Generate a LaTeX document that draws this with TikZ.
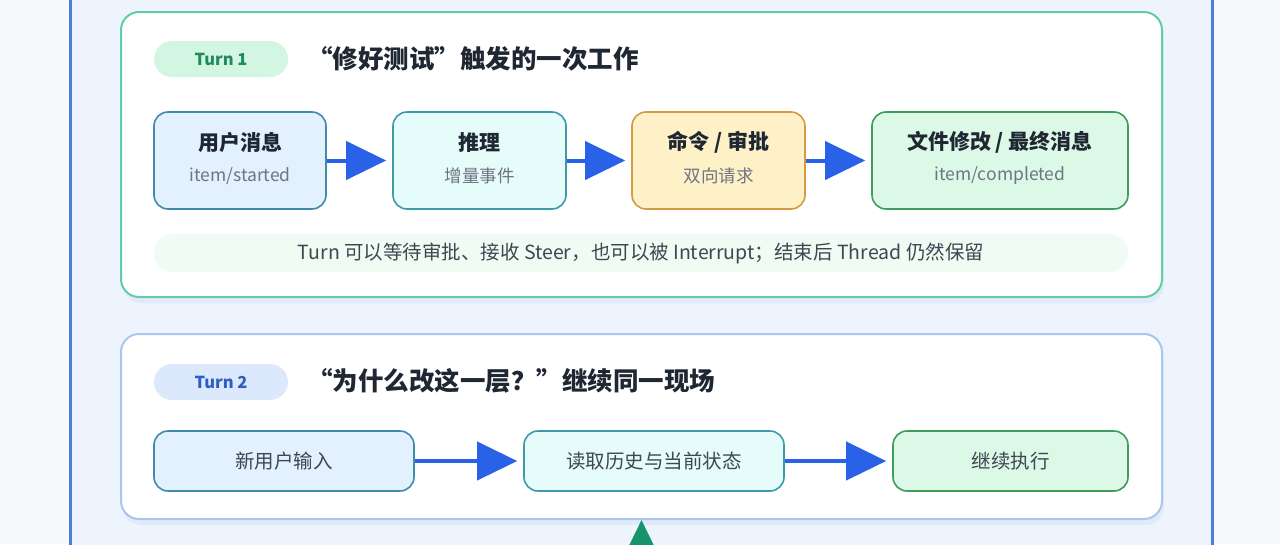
\documentclass[tikz,border=0pt]{standalone}
\usepackage{fontspec}
\setmainfont{Noto Sans CJK SC}
\usetikzlibrary{arrows.meta,positioning}

\definecolor{page_bg}{HTML}{F6F8FC}
\definecolor{outer_bg}{HTML}{EEF4FD}
\definecolor{outer_line}{HTML}{4A7FD4}
\definecolor{panel1_line}{HTML}{62CDA4}
\definecolor{panel2_line}{HTML}{A8C6EE}
\definecolor{shadow_col}{HTML}{D6E2F4}
\definecolor{pill1_fill}{HTML}{D3F6E2}
\definecolor{pill1_text}{HTML}{1F8A5B}
\definecolor{pill2_fill}{HTML}{DCE8FB}
\definecolor{pill2_text}{HTML}{2C5EC4}
\definecolor{blue_fill}{HTML}{E3F0FD}
\definecolor{blue_line}{HTML}{3F8BAA}
\definecolor{cyan_fill}{HTML}{E6FCFB}
\definecolor{cyan_line}{HTML}{3F9AA8}
\definecolor{amber_fill}{HTML}{FEF0C7}
\definecolor{amber_line}{HTML}{D49A45}
\definecolor{green_fill}{HTML}{DCF8E6}
\definecolor{green_line}{HTML}{3E9C5C}
\definecolor{note_fill}{HTML}{EEFCF3}
\definecolor{arrow_blue}{HTML}{2962E6}
\definecolor{arrow_green}{HTML}{16956C}
\definecolor{text_dark}{HTML}{1F2733}
\definecolor{text_mid}{HTML}{3E4652}
\definecolor{text_gray}{HTML}{6E7582}

\begin{document}
\begin{tikzpicture}[x=1pt, y=-1pt,
    panel/.style ={rectangle, rounded corners=18pt, fill=white,
      line width=2pt, minimum width=1041pt},
    turn_pill/.style ={rectangle, rounded corners=18pt,
      minimum width=134pt, minimum height=36pt,
      font=\fontsize{16.5}{18}\selectfont\bfseries},
    heading/.style ={anchor=west, text=text_dark, inner sep=0pt,
      font=\fontsize{25.5}{30}\selectfont\bfseries},
    block_step/.style ={rectangle, rounded corners=14pt, line width=1.6pt,
      minimum height=97pt, minimum width=173pt},
    block_flat/.style ={block_step, minimum height=60pt, minimum width=260pt,
      text=text_mid, font=\fontsize{19.5}{22}\selectfont},
    step_title/.style ={text=text_dark, inner sep=0pt,
      font=\fontsize{21}{24}\selectfont\bfseries},
    step_sub/.style ={text=text_gray, inner sep=0pt,
      font=\fontsize{17.5}{19}\selectfont},
    line/.style ={draw=arrow_blue, line width=4pt,
      -{Triangle[length=40pt,width=38pt]}, shorten >=6pt}]
    %
    % 0. page, outer frame
    \clip (0,0) rectangle (1280,544);
    \fill[page_bg] (0,0) rectangle (1280,544);
    \fill[outer_bg] (70,-20) rectangle (1212,570);
    \draw[outer_line, line width=3pt] (70,-20) -- (70,570);
    \draw[outer_line, line width=3pt] (1212,-20) -- (1212,570);
    %
    % 1. turn 1 panel
    \fill[shadow_col, opacity=0.5, rounded corners=18pt] (123,18) rectangle (1164,303);
    \node [panel, draw=panel1_line, minimum height=285pt] (turn1) at (641.5,154.5) {};
    \node [turn_pill, fill=pill1_fill, text=pill1_text] (pill1) at (221,59) {Turn 1};
    \node [heading] (head1) at (307,59) {“修好测试”触发的一次工作};
    %
    \node [block_step, fill=blue_fill, draw=blue_line, minimum width=172pt] (user_msg) at (240,160.5) {};
    \node [step_title] at ([yshift=18pt]user_msg.center) {用户消息};
    \node [step_sub] at ([yshift=-15.5pt]user_msg.center) {item/started};
    %
    \node [block_step, fill=cyan_fill, draw=cyan_line] (reasoning) at (479.5,160.5) {};
    \node [step_title] at ([yshift=18pt]reasoning.center) {推理};
    \node [step_sub] at ([yshift=-15.5pt]reasoning.center) {增量事件};
    %
    \node [block_step, fill=amber_fill, draw=amber_line] (approval) at (718.5,160.5) {};
    \node [step_title] at ([yshift=18pt]approval.center) {命令 / 审批};
    \node [step_sub] at ([yshift=-15.5pt]approval.center) {双向请求};
    %
    \node [block_step, fill=green_fill, draw=green_line, minimum width=256pt] (file_edit) at (1000,160.5) {};
    \node [step_title] at ([yshift=18pt]file_edit.center) {文件修改 / 最终消息};
    \node [step_sub] at ([yshift=-15.5pt]file_edit.center) {item/completed};
    %
    \node [rectangle, rounded corners=19pt, fill=note_fill, minimum width=974pt,
      minimum height=38pt, text=text_mid, font=\fontsize{19.5}{21}\selectfont]
      (note) at (641,253) {Turn 可以等待审批、接收 Steer，也可以被 Interrupt；结束后 Thread 仍然保留};
    %
    % 2. turn 2 panel
    \fill[shadow_col, opacity=0.5, rounded corners=18pt] (123,340) rectangle (1164,525);
    \node [panel, draw=panel2_line, minimum height=185pt] (turn2) at (641.5,426.5) {};
    \node [turn_pill, fill=pill2_fill, text=pill2_text] (pill2) at (221,382) {Turn 2};
    \node [heading] (head2) at (307,381) {“为什么改这一层？”继续同一现场};
    %
    \node [block_flat, fill=blue_fill, draw=blue_line] (new_input) at (284,461) {新用户输入};
    \node [block_flat, fill=cyan_fill, draw=cyan_line] (read_state) at (654,461) {读取历史与当前状态};
    \node [block_flat, fill=green_fill, draw=green_line, minimum width=235pt] (continue_run) at (1010.5,461) {继续执行};
    %
    % 3. connecting nodes with paths
    \coordinate (below) at (641.5,600);
    \begin{scope}[every path/.style=line]
      \path (user_msg) -- (reasoning);
      \path (reasoning) -- (approval);
      \path (approval) -- (file_edit);
      %
      \path (new_input) -- (read_state);
      \path (read_state) -- (continue_run);
      %
      \path[draw=arrow_green, shorten >=0pt] (below) -- (turn2.south);
    \end{scope}
  \end{tikzpicture}
\end{document}
